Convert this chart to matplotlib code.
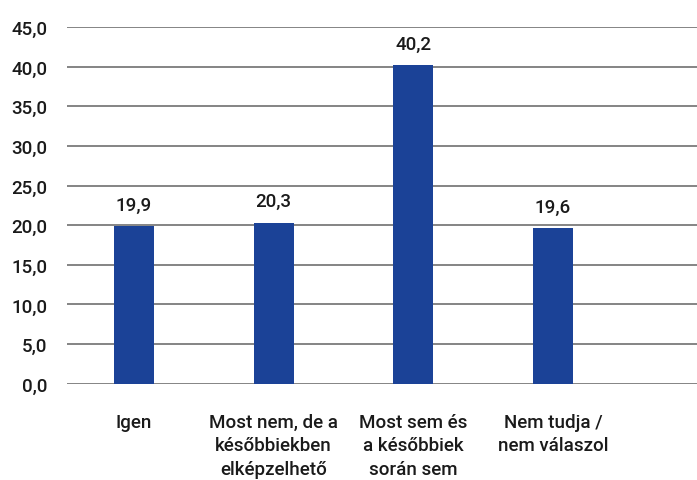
import numpy as np
import matplotlib.pyplot as plt

# Categories and values
categories = ['Igen',
              'Most nem, de a\nkésőbbiekben\nelképzelhető',
              'Most sem és\na későbbiek\nsorán sem',
              'Nem tudja /\nnem válaszol']
values = [19.9, 20.3, 40.2, 19.6]
yticks = [0, 5, 10, 15, 20, 25, 30, 35, 40, 45]

plt.rcParams['font.family'] = ['Roboto', 'DejaVu Sans']
plt.rcParams['font.weight'] = 'medium'

fig = plt.figure(figsize=(6.97, 4.81), dpi=100)
ax = fig.add_axes([0.096, 0.2, 0.904, 0.742])

x = np.arange(len(categories))
ax.bar(x, values, width=0.286, color='#1B4297', zorder=3)

for xi, v in zip(x, values):
    ax.annotate(f'{v:.1f}'.replace('.', ','), (xi, v), xytext=(0, 9),
                textcoords='offset points', ha='center', va='bottom',
                fontsize=13.5, color='#1a1a1a')

ax.set_ylim(0, 45)
ax.set_xlim(-0.48, 4.03)
ax.set_yticks(yticks)
ax.set_yticklabels([f'{t:.1f}'.replace('.', ',') for t in yticks])
ax.set_xticks(x)
ax.set_xticklabels(categories, linespacing=1.38)

ax.yaxis.grid(True, color='#707070', linewidth=1.2, zorder=0)
for s in ax.spines.values():
    s.set_visible(False)
ax.tick_params(axis='y', length=0, pad=14, labelsize=13.5, labelcolor='#1a1a1a')
ax.tick_params(axis='x', length=0, pad=21, labelsize=13.5, labelcolor='#1a1a1a')

fig.savefig('out.png', dpi=100)
